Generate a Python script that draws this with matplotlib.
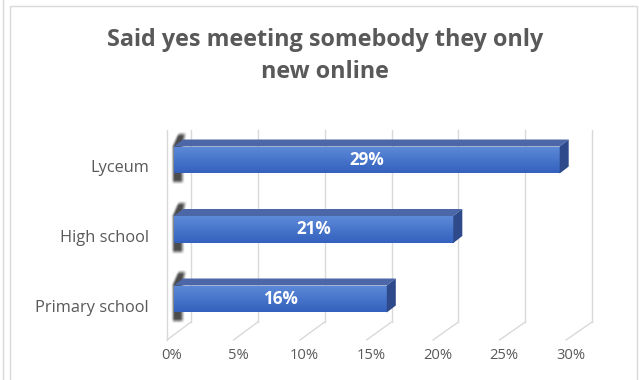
import numpy as np
import matplotlib
matplotlib.use("Agg")
import matplotlib.pyplot as plt
from matplotlib.patches import Polygon, Rectangle
from matplotlib.lines import Line2D
import matplotlib.transforms as mtransforms

# ---- data ----
categories = ["Primary school", "High school", "Lyceum"]
values = [16, 21, 29]
value_labels = ["16%", "21%", "29%"]
xticks = [0, 5, 10, 15, 20, 25, 30]
xtick_labels = ["0%", "5%", "10%", "15%", "20%", "25%", "30%"]
title = "Said yes meeting somebody they only\nnew online"

FONT = "Open Sans"
TEXT_GRAY = "#595959"
GRID = "#D9D9D9"

W, H, DPI = 639, 380, 100
fig = plt.figure(figsize=(W / DPI, H / DPI), dpi=DPI)
fig.patch.set_facecolor("white")

# plot area geometry (pixels, origin top-left)
AX_L, AX_R = 174, 573
AX_T, AX_B = 130, 340
Y0_PX, PX_PER_CAT = 299, 69.5
XMAX = 30
ax = fig.add_axes([AX_L / W, 1 - AX_B / H, (AX_R - AX_L) / W, (AX_B - AX_T) / H])
ax.set_xlim(0, XMAX)
ax.set_ylim((Y0_PX - AX_B) / PX_PER_CAT, (Y0_PX - AX_T) / PX_PER_CAT)
ax.set_facecolor("none")
for s in ax.spines.values():
    s.set_visible(False)

px_x = XMAX / (AX_R - AX_L)


def dx(p):
    return p * px_x


def dy(p_down):
    return -p_down / PX_PER_CAT


# 3D depth offsets (pixels: right, down)
FRONT = (-7, 5)
BACK = (17, -13)
BAR_DEPTH = (9, -7)
y_floor = dy(335 - Y0_PX)
y_top = dy(143 - Y0_PX)
y_axes_top = dy(AX_T - Y0_PX)

# walls and floor
ax.add_line(Line2D([dx(FRONT[0])] * 2, [y_floor + dy(FRONT[1]), y_axes_top],
                   color=GRID, lw=1, clip_on=False, zorder=1))
for t in xticks:
    xf, yf_ = t + dx(FRONT[0]), y_floor + dy(FRONT[1])
    xb, yb = t + dx(BACK[0] + 0.07 * t), y_floor + dy(BACK[1])
    ax.add_line(Line2D([xf, xb], [yf_, yb], color=GRID, lw=1, clip_on=False, zorder=1))
    ax.add_line(Line2D([xb, xb], [yb, y_top + dy(BACK[1])], color=GRID, lw=1,
                       clip_on=False, zorder=1))

# bars
ypos = np.arange(len(categories))
bar_h = 27 / PX_PER_CAT
ddx, ddy = dx(BAR_DEPTH[0]), dy(BAR_DEPTH[1])

front_grad = np.linspace(0, 1, 64)[:, None]
c_top = np.array([0x5D, 0x8A, 0xD8]) / 255
c_bot = np.array([0x33, 0x61, 0xBD]) / 255
grad_img = (c_top[None, None, :] * (1 - front_grad[..., None]) +
            c_bot[None, None, :] * front_grad[..., None])


def ramp(a, width):
    return np.clip(a / width, 0, 1)


# soft shadow behind the left end of each bar (pixel grid relative to bar's top-left)
SH_X0, SH_X1 = -6, 16
SH_Y0, SH_Y1 = -17, 27 + 14
u = np.arange(SH_X0, SH_X1, 0.5) + 0.25
w = np.arange(SH_Y0, SH_Y1, 0.5) + 0.25
U, Wd = np.meshgrid(u, w)
above = np.clip(-Wd, 0, None)
left_edge = -2.5 + 0.45 * above
right_edge = 10.5 + 0.2 * above
shadow_alpha = (ramp(U - left_edge, 3.0) * ramp(right_edge - U, 4.0) *
                ramp(Wd - (-14), 4.0) * ramp((27 + 11) - Wd, 4.0)) * 0.88
shadow_rgba = np.zeros(U.shape + (4,))
shadow_rgba[..., :3] = 0.2
shadow_rgba[..., 3] = shadow_alpha

for yc, v in zip(ypos, values):
    top = yc + bar_h / 2
    ax.imshow(shadow_rgba, extent=(dx(SH_X0), dx(SH_X1), top + dy(SH_Y1), top + dy(SH_Y0)),
              origin="upper", aspect="auto", interpolation="bilinear", zorder=2,
              clip_on=False)

bars = ax.barh(ypos, values, height=bar_h, color="none", zorder=3)
for rect, v, yc in zip(bars, values, ypos):
    top = yc + bar_h / 2
    bot = yc - bar_h / 2
    img = ax.imshow(grad_img, extent=(0, v, bot, top), origin="upper",
                    aspect="auto", interpolation="bilinear", zorder=4)
    img.set_clip_path(rect)
    ax.add_patch(Polygon([(0, top), (v, top), (v + ddx, top + ddy), (ddx, top + ddy)],
                         closed=True, fc="#4C67A8", ec="none", zorder=4, clip_on=False))
    ax.add_patch(Polygon([(v, top), (v + ddx, top + ddy), (v + ddx, bot + ddy), (v, bot)],
                         closed=True, fc="#2E4A8B", ec="none", zorder=4, clip_on=False))

for yc, v, lab in zip(ypos, values, value_labels):
    ax.text(v / 2, yc, lab, ha="center", va="center", color="white",
            fontsize=12.3, fontweight="bold", family=FONT, zorder=6)

# axes ticks
ax.set_xticks(xticks)
ax.set_xticklabels(xtick_labels, family=FONT, fontsize=10.6, color=TEXT_GRAY)
ax.set_yticks(ypos)
ax.set_yticklabels(categories, family=FONT, fontsize=11.8, color=TEXT_GRAY)
ax.tick_params(axis="both", length=0)
ax.tick_params(axis="x", pad=6)
ax.tick_params(axis="y", pad=18)
xshift = mtransforms.ScaledTranslation(-2.5 / DPI, 0, fig.dpi_scale_trans)
for lab in ax.get_xticklabels():
    lab.set_transform(lab.get_transform() + xshift)
yshift = mtransforms.ScaledTranslation(0, -6.5 / DPI, fig.dpi_scale_trans)
for lab in ax.get_yticklabels():
    lab.set_transform(lab.get_transform() + yshift)

# title
fig.text(325 / W, 1 - 56 / H, title, ha="center", va="center", family=FONT,
         fontsize=16.8, fontweight="bold", color=TEXT_GRAY, linespacing=1.4)

# chart frame
fig.add_artist(Rectangle((9.5 / W, -0.1), (627 / W), 1 - 5.5 / H + 0.1,
                         transform=fig.transFigure, fill=False, ec=GRID, lw=1))
fig.add_artist(Line2D([2.5 / W, 2.5 / W], [0, 1], transform=fig.transFigure,
                      color=GRID, lw=1))

fig.savefig("out.png", dpi=DPI, facecolor="white")
